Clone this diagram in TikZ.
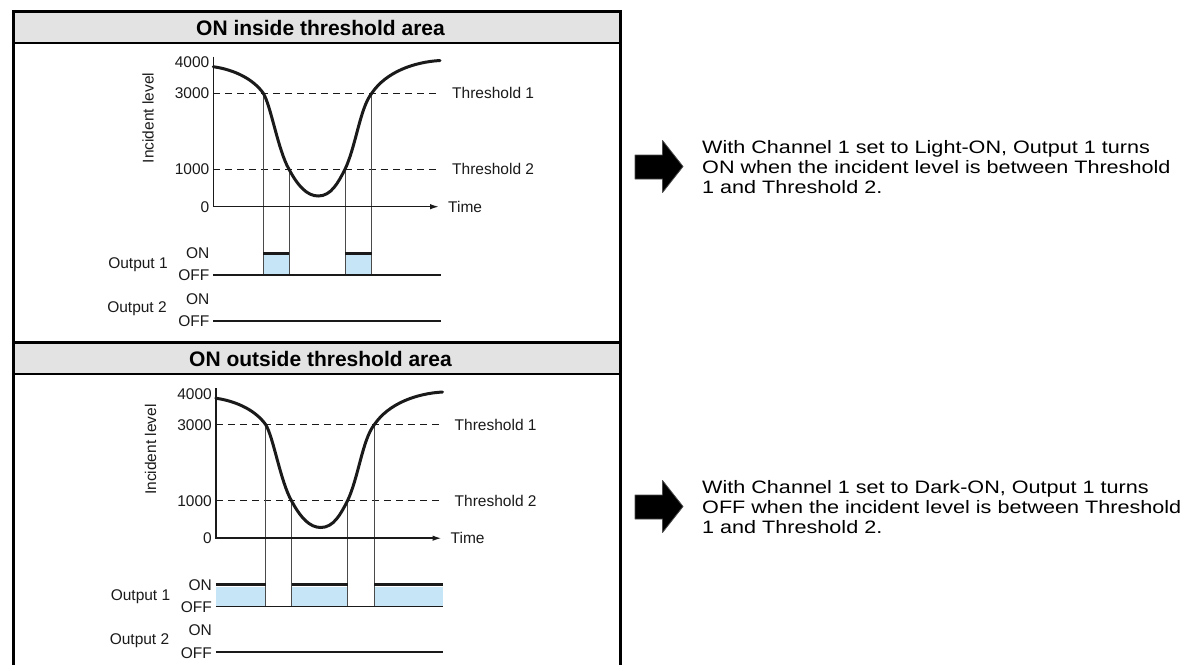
\documentclass[tikz,border=0pt]{standalone}
\usepackage{fontspec}
\setmainfont{Liberation Sans}
\newfontfamily\widefont[FakeStretch=1.2]{Liberation Sans}
\usetikzlibrary{arrows.meta}
\definecolor{hdrgray}{HTML}{E3E3E3}
\definecolor{fillblue}{HTML}{C6E6F7}
\definecolor{inkdark}{HTML}{1A1A1A}
\definecolor{guide}{HTML}{4A4A4A}

\newcommand\panelcommon[1]{%
  \coordinate (#1o) at (213.3,206.7);
  \coordinate (#1top) at (213.3,56.7);
  \coordinate (#1xend) at (439,206.7);
  \coordinate (#1c1) at (263.3,93.3);
  \coordinate (#1c2) at (289,169.3);
  \coordinate (#1c3) at (345,169.3);
  \coordinate (#1c4) at (371.7,93.3);
  \coordinate (#1d1s) at (213.3,93.3);
  \coordinate (#1d1e) at (441,93.3);
  \coordinate (#1d2s) at (213.3,169.3);
  \coordinate (#1d2e) at (441,169.3);
  \coordinate (#1offs) at (213.3,275);
  \coordinate (#1offe) at (440.5,275);
  \coordinate (#1o2s) at (213.3,320.7);
  \coordinate (#1o2e) at (440.5,320.7);
  \node[lbl, anchor=east] (#1t4) at (209.5,62.3) {4000};
  \node[lbl, anchor=east] (#1t3) at (209.5,93.3) {3000};
  \node[lbl, anchor=east] (#1t1) at (209.5,169.3) {1000};
  \node[lbl, anchor=east] (#1t0) at (209.5,206.7) {0};
  \node[lbl, rotate=90] (#1yl) at (148,118) {Incident level};
  \node[lbl, anchor=west] (#1th1) at (452,93.3) {Threshold 1};
  \node[lbl, anchor=west] (#1th2) at (452,169.3) {Threshold 2};
  \node[lbl, anchor=west] (#1time) at (448,206.7) {Time};
  \node[lbl, anchor=east] (#1on1) at (209.5,253.3) {ON};
  \node[lbl, anchor=east] (#1off1) at (209.5,275.5) {OFF};
  \node[lbl] (#1out1) at (138,265) {Output 1};
  \node[lbl, anchor=east] (#1on2) at (209.5,299) {ON};
  \node[lbl, anchor=east] (#1off2) at (209.5,321.2) {OFF};
  \node[lbl] (#1out2) at (137,309) {Output 2};
  \draw[dashline] (#1d1s) -- (#1d1e);
  \draw[dashline] (#1d2s) -- (#1d2e);
}
\newcommand\panelfront[1]{%
  \foreach \k in {1,2,3,4} {\draw[guideline] (#1c\k) -- (#1c\k |- #1offs);}
  \draw[offline] (#1offs) -- (#1offe);
  \draw[offline] (#1o2s) -- (#1o2e);
  \draw[axisline, -{Latex[length=9pt,width=5.5pt]}] (#1top) -- (#1o) -- (#1xend);
  \draw[curvestyle] (213.3,66.7) .. controls (236,70) and (254,80) .. (#1c1)
     .. controls (271,106) and (278,150) .. (#1c2)
     .. controls (298,186) and (307,196) .. (318.3,196)
     .. controls (331,196) and (338,183) .. (#1c3)
     .. controls (356,146) and (360,108) .. (#1c4)
     .. controls (386,72) and (414,62) .. (440,60.5);
}

\begin{document}
\begin{tikzpicture}[x=1pt,y=-1pt,
  lbl/.style={font=\fontsize{15.5}{18}\selectfont, text=inkdark, inner sep=0pt},
  hdr/.style={font=\fontsize{21}{24}\selectfont\bfseries, inner sep=0pt},
  rtext/.style={font=\widefont\fontsize{18}{20}\selectfont, align=left, inner sep=0pt, text=black},
  curvestyle/.style={line width=3pt, inkdark, line cap=round},
  dashline/.style={dash pattern=on 7pt off 5pt, line width=1pt, inkdark},
  guideline/.style={line width=1pt, guide},
  axisline/.style={line width=1.5pt, inkdark},
  offline/.style={line width=1.6pt, inkdark},
  onlevel/.style={line width=2.8pt, inkdark},
  frameline/.style={line width=3.2pt, black},
  bigarrow/.style={fill=black, draw=black!70, line width=0.8pt, line join=round}
]
\useasboundingbox (0,0) rectangle (1183,664);

% ---------- frame ----------
\fill[hdrgray] (13.5,11.5) rectangle (620.5,43);
\fill[hdrgray] (13.5,342.5) rectangle (620.5,374);
\draw[frameline] (13.5,690) -- (13.5,11.5) -- (620.5,11.5) -- (620.5,690);
\draw[line width=2.8pt] (13.5,43) -- (620.5,43);
\draw[line width=2.8pt] (13.5,342.5) -- (620.5,342.5);
\draw[line width=2.8pt] (13.5,374) -- (620.5,374);
\node[hdr] (h1) at (320.5,27.5) {ON inside threshold area};
\node[hdr] (h2) at (320.5,358.5) {ON outside threshold area};

% ---------- panel 1 : inside ----------
\begin{scope}
  \panelcommon{a}
  \fill[fillblue] (263.3,255) rectangle (289,275);
  \fill[fillblue] (345,255) rectangle (371.7,275);
  \panelfront{a}
  \draw[onlevel] (ac1 |- 0,253.3) -- (ac2 |- 0,253.3);
  \draw[onlevel] (ac3 |- 0,253.3) -- (ac4 |- 0,253.3);
\end{scope}

% ---------- panel 2 : outside ----------
\begin{scope}[shift={(2.5,331.5)}]
  \panelcommon{b}
  \fill[fillblue] (213.3,255) rectangle (263.3,275);
  \fill[fillblue] (289,255) rectangle (345,275);
  \fill[fillblue] (371.7,255) rectangle (440.5,275);
  \panelfront{b}
  \draw[onlevel] (213.3,253.3) -- (bc1 |- 0,253.3);
  \draw[onlevel] (bc2 |- 0,253.3) -- (bc3 |- 0,253.3);
  \draw[onlevel] (bc4 |- 0,253.3) -- (440.5,253.3);
\end{scope}

% ---------- right side ----------
\draw[bigarrow] (635,155) -- (662.5,155) -- (662.5,140.5) -- (683,166.5)
  -- (662.5,192.5) -- (662.5,179) -- (635,179) -- cycle;
\node[rtext, anchor=west] (txt1) at (702,167.5)
  {With Channel 1 set to Light-ON, Output 1 turns\\ON when the incident level is between Threshold\\1 and Threshold 2.};

\draw[bigarrow] (635,495) -- (662.5,495) -- (662.5,480.5) -- (683,506.5)
  -- (662.5,532.5) -- (662.5,519) -- (635,519) -- cycle;
\node[rtext, anchor=west] (txt2) at (702,507.5)
  {With Channel 1 set to Dark-ON, Output 1 turns\\OFF when the incident level is between Threshold\\1 and Threshold 2.};
\end{tikzpicture}
\end{document}
